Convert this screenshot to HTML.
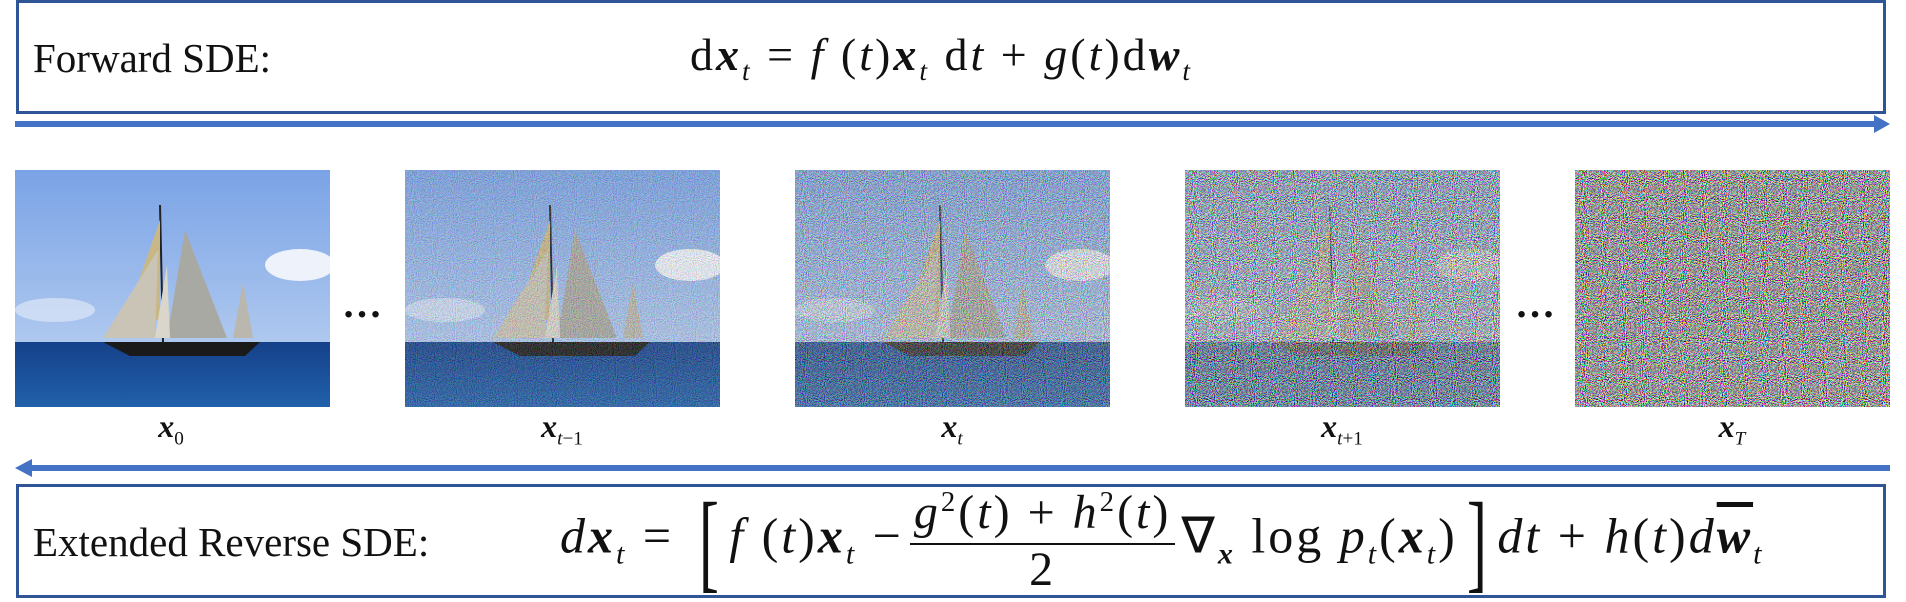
<!DOCTYPE html>
<html><head><meta charset="utf-8"><style>
body{margin:0;width:1906px;height:598px;background:#fff;position:relative;overflow:hidden;font-family:"Liberation Serif",serif;color:#111}
.box{position:absolute;left:16px;width:1870px;border:3px solid #2f5597;box-sizing:border-box}
.lbl{position:absolute;font-size:41px}
.m{position:absolute;white-space:nowrap}
.b{font-weight:bold;font-style:italic}
i{font-style:italic}
.img{position:absolute;top:170px;width:315px;height:237px}
.cap{position:absolute;top:408px;font-size:32px;transform:translateX(-50%)}
sub{font-size:60%}
.frac{display:inline-flex;flex-direction:column;align-items:center;vertical-align:middle;margin:0 6px;line-height:1.05}
.frac .n{border-bottom:2px solid #111;padding:0 4px 4px}
.big{font-size:110px;font-weight:100;vertical-align:middle;line-height:1;transform:scaleX(.55);display:inline-block}
</style></head><body>
<svg width="0" height="0" style="position:absolute"><defs>
<filter id="nz" x="0" y="0" width="100%" height="100%"><feTurbulence type="fractalNoise" baseFrequency="0.95" numOctaves="1" seed="3"/><feColorMatrix type="matrix" values="7 0 0 0 -3  0 7 0 0 -3  0 0 7 0 -3  0 0 0 0 1"/></filter>
<linearGradient id="sky" x1="0" y1="0" x2="0" y2="1"><stop offset="0" stop-color="#7aa3e6"/><stop offset="1" stop-color="#c2d6f2"/></linearGradient>
<linearGradient id="sea" x1="0" y1="0" x2="0" y2="1"><stop offset="0" stop-color="#15418a"/><stop offset="1" stop-color="#2160aa"/></linearGradient>
<g id="scene">
<rect width="315" height="237" fill="url(#sky)"/>
<ellipse cx="285" cy="95" rx="35" ry="16" fill="#eef3fb"/>
<ellipse cx="40" cy="140" rx="40" ry="12" fill="#dde7f6" opacity=".7"/>
<rect y="172" width="315" height="65" fill="url(#sea)"/>
<polygon points="88,172 245,172 230,186 115,186" fill="#1a1a1a"/>
<line x1="145" y1="35" x2="148" y2="172" stroke="#222" stroke-width="2"/>
<polygon points="145,50 110,150 145,150" fill="#c8b888"/>
<polygon points="170,60 152,168 212,168" fill="#a9a9a3"/>
<polygon points="143,80 88,168 140,168" fill="#c9c4b6"/>
<polygon points="152,95 140,168 155,168" fill="#dad6cc"/>
<polygon points="228,112 218,168 238,168" fill="#b9b7ae"/>
</g></defs></svg>

<div class="box" style="top:0;height:114px"></div>
<div class="lbl" style="left:33px;top:34px">Forward SDE:</div>
<div class="m" style="left:690px;top:28px;font-size:46px;letter-spacing:3px">d<span class="b">x</span><sub><i>t</i></sub> = <i>f</i> (<i>t</i>)<span class="b">x</span><sub><i>t</i></sub> d<i>t</i> + <i>g</i>(<i>t</i>)d<span class="b">w</span><sub><i>t</i></sub></div>

<svg style="position:absolute;left:0;top:112px" width="1906" height="24">
<rect x="15" y="9" width="1862" height="6" fill="#4472c4"/><polygon points="1874,3 1890,12 1874,21" fill="#4472c4"/></svg>

<svg class="img" style="left:15px"><use href="#scene"/></svg>
<svg class="img" style="left:405px"><use href="#scene"/><rect width="315" height="237" filter="url(#nz)" opacity=".2"/></svg>
<svg class="img" style="left:795px"><use href="#scene"/><rect width="315" height="237" filter="url(#nz)" opacity=".4"/></svg>
<svg class="img" style="left:1185px"><use href="#scene"/><rect width="315" height="237" filter="url(#nz)" opacity=".7"/></svg>
<svg class="img" style="left:1575px"><rect width="315" height="237" fill="#807a88"/><rect width="315" height="237" filter="url(#nz)" opacity=".85"/></svg>

<div style="position:absolute;left:342px;top:280px;font-size:40px;font-weight:bold">…</div>
<div style="position:absolute;left:1515px;top:280px;font-size:40px;font-weight:bold">…</div>

<div class="cap" style="left:171px"><span class="b">x</span><sub>0</sub></div>
<div class="cap" style="left:562px"><span class="b">x</span><sub><i>t</i>−1</sub></div>
<div class="cap" style="left:952px"><span class="b">x</span><sub><i>t</i></sub></div>
<div class="cap" style="left:1342px"><span class="b">x</span><sub><i>t</i>+1</sub></div>
<div class="cap" style="left:1732px"><span class="b">x</span><sub><i>T</i></sub></div>

<svg style="position:absolute;left:0;top:456px" width="1906" height="24">
<rect x="30" y="9" width="1860" height="6" fill="#4472c4"/><polygon points="32,3 15,12 32,21" fill="#4472c4"/></svg>

<div class="box" style="top:484px;height:114px"></div>
<div class="lbl" style="left:33px;top:518px">Extended Reverse SDE:</div>
<div class="m" style="left:560px;top:486px;height:110px;display:flex;align-items:center;font-size:50px;letter-spacing:3px">
<span><i>d</i><span class="b">x</span><sub><i>t</i></sub> = <span class="big">[</span><i>f</i> (<i>t</i>)<span class="b">x</span><sub><i>t</i></sub> − </span>
<span class="frac" style="font-size:48px"><span class="n"><i>g</i><sup style="font-size:60%">2</sup>(<i>t</i>) + <i>h</i><sup style="font-size:60%">2</sup>(<i>t</i>)</span><span>2</span></span>
<span>∇<sub class="b">x</sub> log <i>p</i><sub><i>t</i></sub>(<span class="b">x</span><sub><i>t</i></sub>)<span class="big">]</span><i>dt</i> + <i>h</i>(<i>t</i>)<i>d</i><span class="b" style="text-decoration:overline">w</span><sub><i>t</i></sub></span>
</div>
</body></html>
